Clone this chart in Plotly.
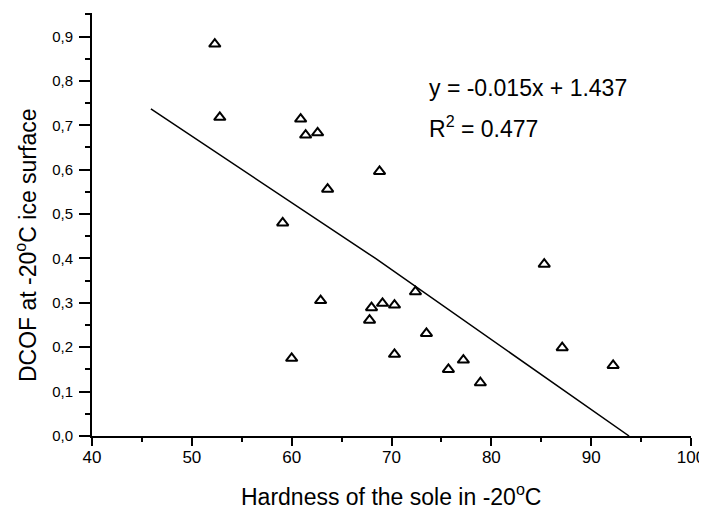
import plotly.graph_objects as go

# Data
hardness = [52.3, 52.8, 60.9, 61.4, 62.6, 63.6, 59.1, 62.9, 60.0, 68.8, 85.3, 72.4,
            68.0, 69.1, 70.3, 67.8, 73.5, 70.3, 77.2, 75.7, 78.9, 87.1, 92.2]
dcof = [0.883, 0.718, 0.714, 0.678, 0.683, 0.556, 0.480, 0.305, 0.175, 0.596, 0.387, 0.325,
        0.289, 0.299, 0.295, 0.261, 0.231, 0.184, 0.171, 0.150, 0.120, 0.199, 0.159]

# Trend line as drawn in the reference
fit_x = [45.9, 68.4, 93.8]
fit_y = [0.737, 0.400, 0.0]

equation_text = "y = -0.015x + 1.437"
r2_text = "R<sup>2</sup> = 0.477"
x_title = "Hardness of the sole in -20<sup>o</sup>C"
y_title = "DCOF at -20<sup>o</sup>C ice surface"

FONT = "Arial, Liberation Sans, sans-serif"

fig = go.Figure()
fig.add_trace(go.Scatter(
    x=fit_x, y=fit_y, mode="lines",
    line=dict(color="black", width=1.5),
    showlegend=False, hoverinfo="skip"))
fig.add_trace(go.Scatter(
    x=hardness, y=dcof, mode="markers",
    marker=dict(symbol="triangle-up-open", size=10, color="black",
                line=dict(color="black", width=2)),
    showlegend=False))

OFF = 8  # page body margin
W, H = 707 - OFF, 509 - OFF
L, T = 92 - OFF, 13 - OFF
pw, ph = 599, 423
R = W - L - pw
B = H - T - ph

def px(xp):
    return (xp - OFF - L) / pw

def py(yp):
    return (T + ph - (yp - OFF)) / ph

fig.update_layout(
    width=W, height=H,
    margin=dict(l=L, r=R, t=T, b=B, autoexpand=False),
    paper_bgcolor="white", plot_bgcolor="white",
    separators=",.",
    font=dict(family=FONT, color="black"),
    xaxis=dict(range=[40, 100], showgrid=False, zeroline=False,
               showline=True, linecolor="black", linewidth=2,
               ticks="outside", ticklen=8, tickwidth=1.5, tickcolor="black",
               dtick=10, tick0=0, ticklabelstandoff=-3,
               minor=dict(dtick=5, ticks="outside", ticklen=4, tickwidth=1.5, tickcolor="black"),
               tickfont=dict(size=17, family=FONT, color="black")),
    yaxis=dict(range=[0, 0.953], showgrid=False, zeroline=False,
               showline=True, linecolor="black", linewidth=2,
               ticks="outside", ticklen=11, tickwidth=1.5, tickcolor="black",
               dtick=0.1, tick0=0, tickformat=".1f", ticklabelstandoff=3,
               minor=dict(dtick=0.05, ticks="outside", ticklen=5, tickwidth=1.5, tickcolor="black"),
               tickfont=dict(size=15, family=FONT, color="black")),
    annotations=[
        dict(text=equation_text, xref="paper", yref="paper", x=px(427), y=py(88),
             xanchor="left", yanchor="middle", showarrow=False,
             font=dict(size=23, family=FONT, color="black")),
        dict(text=r2_text, xref="paper", yref="paper", x=px(427), y=py(127),
             xanchor="left", yanchor="middle", showarrow=False,
             font=dict(size=23, family=FONT, color="black")),
        dict(text=x_title, xref="paper", yref="paper", x=px(391), y=py(495),
             xanchor="center", yanchor="middle", showarrow=False,
             font=dict(size=23, family=FONT, color="black")),
        dict(text=y_title, xref="paper", yref="paper", x=px(26), y=py(245),
             xanchor="center", yanchor="middle", showarrow=False, textangle=-90,
             font=dict(size=23, family=FONT, color="black")),
    ],
)

fig.write_html("out.html")
